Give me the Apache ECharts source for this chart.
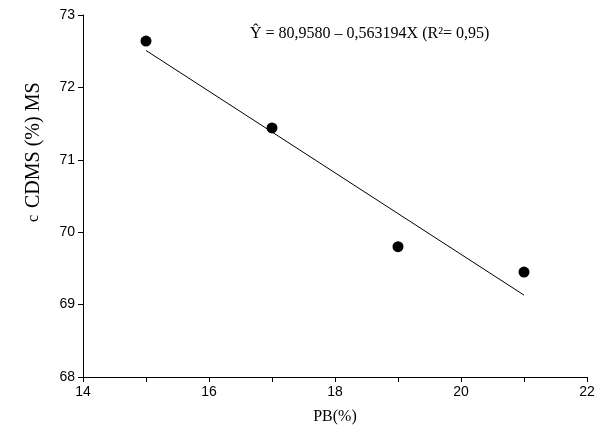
<!DOCTYPE html><html><head><meta charset="utf-8"><script src="https://cdn.jsdelivr.net/npm/echarts@6/dist/echarts.min.js"></script></head><body style="margin:0"><div id="c" style="width:600px;height:435px"></div><script>
const xs=[15,17,19,21];
const ys=[72.64,71.44,69.80,69.45];
const b0=80.958,b1=-0.563194;
const lineX=[15,21];
const chart=echarts.init(document.getElementById('c'));
chart.setOption({backgroundColor:'#fff',animation:false,
grid:{left:83,right:13,top:15,bottom:58},
xAxis:{type:'value',min:14,max:22,interval:1,name:'PB(%)',nameLocation:'middle',nameGap:32,
 nameTextStyle:{fontFamily:'Liberation Serif',fontSize:16,color:'#000'},
 axisLine:{lineStyle:{color:'#000'}},axisTick:{length:5,lineStyle:{color:'#000'}},splitLine:{show:false},
 axisLabel:{fontFamily:'Liberation Sans',fontSize:14,color:'#000',formatter:v=>v%2===0?v:''}},
yAxis:{type:'value',min:68,max:73,interval:1,
 axisLine:{lineStyle:{color:'#000'}},axisTick:{length:5,lineStyle:{color:'#000'}},splitLine:{show:false},
 axisLabel:{fontFamily:'Liberation Sans',fontSize:14,color:'#000'}},
graphic:[{type:'text',left:250,top:26,style:{text:'Ŷ = 80,9580 – 0,563194X (R²= 0,95)',font:'16px "Liberation Serif"',fill:'#000'}},
 {type:'text',x:24,y:208,rotation:Math.PI/2,style:{text:'CDMS (%) MS',font:'20px "Liberation Serif"',fill:'#000'}},
 {type:'text',x:26,y:222,rotation:Math.PI/2,style:{text:'c',font:'16px "Liberation Serif"',fill:'#000'}}],
series:[{type:'line',data:lineX.map(x=>[x,b0+b1*x]),symbol:'none',lineStyle:{color:'#000',width:1}},
{type:'scatter',data:xs.map((x,i)=>[x,ys[i]]),symbolSize:11,itemStyle:{color:'#000',opacity:1}}]});
</script></body></html>
